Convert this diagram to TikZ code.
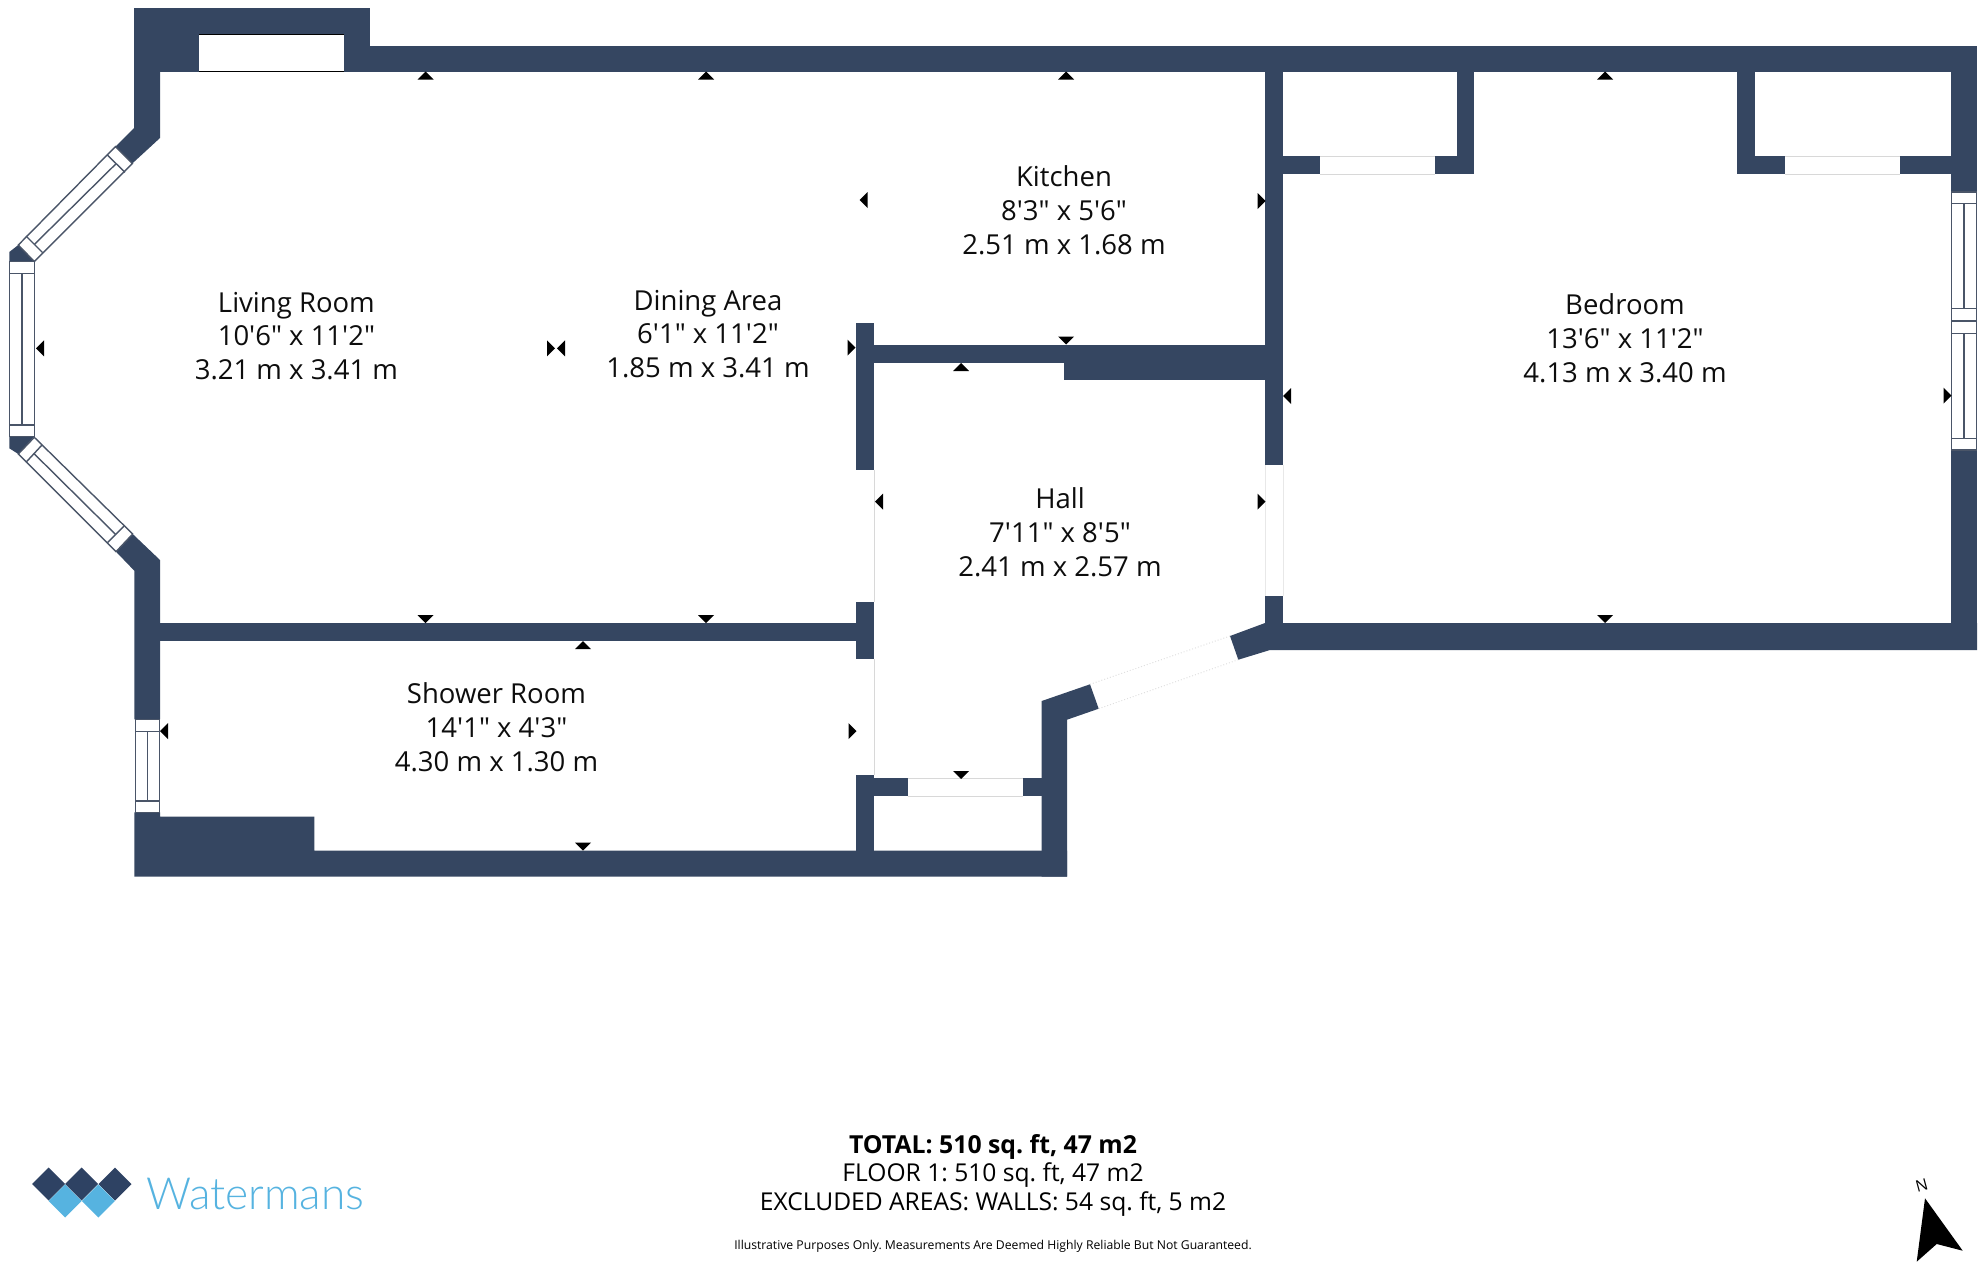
\documentclass[tikz,border=0pt]{standalone}
\usepackage{fontspec}
\setmainfont[Ligatures=TeXOff]{Open Sans}
\newfontfamily\logofont{Lato Light}
\AtBeginDocument{\frenchspacing}
\definecolor{wallc}{HTML}{354661}
\definecolor{frame}{HTML}{4A5568}
\definecolor{logod}{HTML}{2E4263}
\definecolor{logol}{HTML}{56B3E0}
\definecolor{faint}{HTML}{D8D8D8}
\newcommand\triU[2]{\fill[trimark] (#1,#2) -- ++(-8,8) -- ++(16,0) -- cycle;}
\newcommand\triD[2]{\fill[trimark] (#1,#2) -- ++(-8,-8) -- ++(16,0) -- cycle;}
\newcommand\triL[2]{\fill[trimark] (#1,#2) -- ++(8,-8) -- ++(0,16) -- cycle;}
\newcommand\triR[2]{\fill[trimark] (#1,#2) -- ++(-8,-8) -- ++(0,16) -- cycle;}
\newcommand\vwin[6]{% x1 x2 y1 y2 (outer) c1 c2
  \draw[winframe] (#1,#3) rectangle (#2,#4);
  \draw[winframe] (#1,#5) -- (#2,#5) (#1,#6) -- (#2,#6);
  \draw[winframe] ({(#1+#2)/2},#5) -- ({(#1+#2)/2},#6);}
\tikzset{
  wall/.style={fill=wallc,draw=none},
  trimark/.style={fill=black,draw=none},
  winframe/.style={draw=frame,fill=white,line width=1.4pt},
  gapline/.style={draw=faint,line width=1pt},
  roomlabel/.style={align=center,font=\fontsize{27.5}{33.8}\selectfont,inner sep=0pt,text=black!95},
  logodark/.style={fill=logod,draw=none},
  logolight/.style={fill=logol,draw=none},
}
\begin{document}
\begin{tikzpicture}[x=1pt,y=-1pt]
\useasboundingbox (0,0) rectangle (1986,1264);
% top walls
\fill[wall] (134,8) rectangle (370,71.5);
\fill[wall] (370,46) rectangle (1977,71.5);
\fill[white] (199,34.7) rectangle (343.7,71.5);
\draw[black,line width=1pt] (199,34.7) -- (343.7,34.7) (199,71.5) -- (343.7,71.5);
% west walls
\fill[wall] (134,71) -- (160,71) -- (160,138) -- (132.3,163.5) -- (115.5,146.5) -- (134,128) -- cycle;
\fill[wall] (132.7,534) -- (160,560) -- (160,719.3) -- (134.3,719.3) -- (134.3,570.7) -- (116,551.7) -- cycle;
\fill[wall] (134.3,812.3) -- (160,812.3) -- (160,816.7) -- (314.3,816.7) -- (314.3,850.5) -- (1067,850.5) -- (1067,876.7) -- (134.3,876.7) -- cycle;
\fill[wall] (9.3,252) -- (18.3,245) -- (34.3,261.5) -- (9.3,261.5) -- cycle;
\fill[wall] (9.3,436.7) -- (34.3,436.7) -- (18.3,454) -- (9.3,448.3) -- cycle;
% interior
\fill[wall] (159,623.3) rectangle (857,640.7);
\fill[wall] (856,323.3) rectangle (874,470);
\fill[wall] (856,601.7) rectangle (874,659.3);
\fill[wall] (856,775) rectangle (874,851);
\fill[wall] (873,345) rectangle (1266,363);
\fill[wall] (1064,362) rectangle (1266,380);
\fill[wall] (1265.3,71) rectangle (1283,465);
\fill[wall] (1265.3,596) rectangle (1283,640);
\fill[wall] (873,778.3) rectangle (907.7,796);
\fill[wall] (1022.7,778.3) rectangle (1042.5,796);
\fill[wall] (1041.7,701) -- (1090,684.3) -- (1098.7,708.7) -- (1067,719.7) -- (1067,876.7) -- (1041.7,876.7) -- cycle;
% bedroom
\fill[wall] (1265,623) -- (1977,623) -- (1977,650) -- (1270,650) -- (1238.3,659.7) -- (1230,636) -- cycle;
\fill[wall] (1951,71) rectangle (1977,192);
\fill[wall] (1951,450) rectangle (1977,650);
\fill[wall] (1456.6,71) rectangle (1474,174.3);
\fill[wall] (1737,71) rectangle (1755,174.3);
\fill[wall] (1282,156) rectangle (1320.4,174.3);
\fill[wall] (1435.4,156) rectangle (1474,174.3);
\fill[wall] (1755,156) rectangle (1785,174.3);
\fill[wall] (1900,156) rectangle (1952,174.3);
% openings
\draw[gapline] (1320.4,156) -- (1435.4,156) (1320.4,174.3) -- (1435.4,174.3);
\draw[gapline] (1785,156) -- (1900,156) (1785,174.3) -- (1900,174.3);
\draw[gapline] (907.7,778.3) -- (1022.7,778.3) (907.7,796) -- (1022.7,796);
\draw[gapline] (874,470) -- (874,601.7) (874,659.3) -- (874,775);
\draw[gapline,draw=faint!60] (1265.3,465) -- (1265.3,596) (1283,465) -- (1283,596);
\draw[gapline,draw=faint!80,dotted] (1090,684.3) -- (1230,636) (1098.7,708.7) -- (1238.3,659.7);
% windows
\vwin{9.3}{34.7}{261.7}{436.7}{273.3}{425}
\vwin{135.3}{159.3}{719.3}{812.3}{731.3}{801}
\draw[winframe] (1951.3,192) rectangle (1976.7,321);
\draw[winframe] (1951.3,321) rectangle (1976.7,450);
\draw[winframe] (1951.3,203.3) -- (1976.7,203.3) (1951.3,308.7) -- (1976.7,308.7) (1951.3,333.3) -- (1976.7,333.3) (1951.3,438.3) -- (1976.7,438.3);
\draw[winframe] (1964,203.3) -- (1964,308.7) (1964,333.3) -- (1964,438.3);
% NW window
\draw[winframe] (115.5,146.5) -- (132.3,163.5) -- (34.3,261.5) -- (18.3,245) -- cycle;
\draw[winframe] (107.3,155) -- (125,172.3) (26,236) -- (42.7,252.7);
\draw[winframe] (116.2,163.6) -- (34.4,244.4);
% SW window
\draw[winframe] (34.3,437.3) -- (132.7,534) -- (116,551.7) -- (18.3,454) -- cycle;
\draw[winframe] (42,445) -- (26,462.3) (124,526) -- (107.3,542.7);
\draw[winframe] (34,453.6) -- (115.6,534.4);
% dimension marks
\triU{425.5}{71.5}\triU{706}{71.5}\triU{1066}{71.5}\triU{1605}{71.5}
\triD{425.5}{623}\triD{706}{623}\triD{1066}{344.5}\triD{1605}{623}\triD{961}{779}\triD{583}{850.5}
\triU{961}{363}\triU{583}{641}
\triL{36}{348.3}\triR{555}{348.3}\triL{557}{348.3}\triL{859.5}{200}\triR{855.5}{347.7}
\triR{1265.5}{201}\triL{1283}{396}\triR{1951.5}{395.7}\triL{875}{501.7}\triR{1265.5}{501.7}
\triL{160}{731}\triR{856.5}{731}
% room labels
\node[roomlabel] (living) at (296.4,336) {Living Room\\10'6" x 11'2"\\3.21 m x 3.41 m};
\node[roomlabel] (dining) at (708,334) {Dining Area\\6'1" x 11'2"\\1.85 m x 3.41 m};
\node[roomlabel] (kitchen) at (1064,210) {Kitchen\\8'3" x 5'6"\\2.51 m x 1.68 m};
\node[roomlabel] (bedroom) at (1625,338) {Bedroom\\13'6" x 11'2"\\4.13 m x 3.40 m};
\node[roomlabel] (hall) at (1060,532.5) {Hall\\7'11" x 8'5"\\2.41 m x 2.57 m};
\node[roomlabel] (shower) at (496.5,727.4) {Shower Room\\14'1" x 4'3"\\4.30 m x 1.30 m};
% footer
\node[inner sep=0pt,font=\fontsize{24.8}{28}\selectfont\bfseries] (total) at (993,1146.5) {TOTAL: 510 sq. ft, 47 m2};
\node[inner sep=0pt,font=\fontsize{24.6}{28}\selectfont] (floor) at (993,1175.5) {FLOOR 1: 510 sq. ft, 47 m2};
\node[inner sep=0pt,font=\fontsize{24.6}{28}\selectfont] (excl) at (993,1204.5) {EXCLUDED AREAS: WALLS: 54 sq. ft, 5 m2};
\node[inner sep=0pt,font=\fontsize{12.2}{14}\selectfont] (disc) at (993,1246) {Illustrative Purposes Only. Measurements Are Deemed Highly Reliable But Not Guaranteed.};
% logo
\foreach \cx in {48.7,81.7,115}{\fill[logodark] (\cx-16.5,1184) -- (\cx,1167.5) -- (\cx+16.5,1184) -- (\cx,1200.5) -- cycle;}
\foreach \cx in {65.2,98.3}{\fill[logolight] (\cx-16.5,1201) -- (\cx,1184.5) -- (\cx+16.5,1201) -- (\cx,1217.5) -- cycle;}
\node[anchor=base west,inner sep=0pt,font=\logofont\fontsize{44.3}{48}\selectfont,text=logol] (logotext) at (146,1209) {Watermans};
% north arrow
\fill[black] (1925,1198.3) -- (1962.7,1250.7) -- (1936.7,1244) -- (1916.7,1261.7) -- cycle;
\node[inner sep=0pt,rotate=15,font=\fontsize{16}{18}\selectfont] (north) at (1921.7,1185) {N};
\end{tikzpicture}
\end{document}
